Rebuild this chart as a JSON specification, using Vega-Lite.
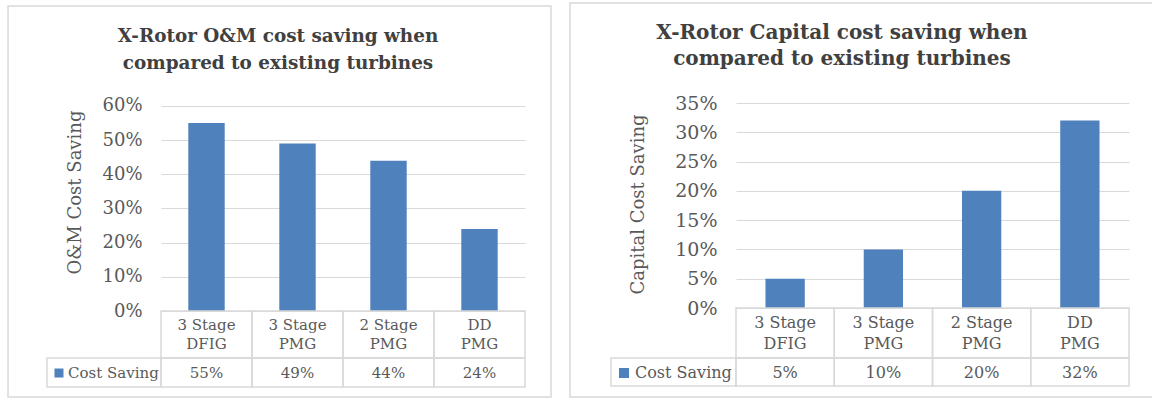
{
  "$schema": "https://vega.github.io/schema/vega-lite/v6.json",
  "padding": {"left": 7, "top": 2, "right": 0, "bottom": 0},
  "background": "white",
  "bounds": "flush",
  "spacing": 211,
  "config": {"view": {"stroke": null}},
  "datasets": {
    "om": [
      {"turbine": "3 Stage\nDFIG", "saving": 0.55},
      {"turbine": "3 Stage\nPMG", "saving": 0.49},
      {"turbine": "2 Stage\nPMG", "saving": 0.44},
      {"turbine": "DD\nPMG", "saving": 0.24}
    ],
    "capital": [
      {"turbine": "3 Stage\nDFIG", "saving": 0.05},
      {"turbine": "3 Stage\nPMG", "saving": 0.10},
      {"turbine": "2 Stage\nPMG", "saving": 0.20},
      {"turbine": "DD\nPMG", "saving": 0.32}
    ],
    "one": [{"series": "Cost Saving"}]
  },
  "hconcat": [
    {
      "width": 364,
      "height": 208,
      "title": {"text": ["X-Rotor O&M cost saving when", "compared to existing turbines"], "font": "DejaVu Serif", "fontSize": 18.4, "fontWeight": "bold", "color": "#404040", "anchor": "middle", "frame": "group", "dx": -65, "offset": -67, "lineHeight": 27},
      "resolve": {"scale": {"x": "independent"}, "axis": {"y": "independent"}},
      "layer": [
        {
          "data": {"name": "one"},
          "resolve": {"axis": {"y": "independent"}},
          "layer": [
            {
              "mark": {"type": "rect", "fill": null, "stroke": "#d9d9d9", "strokeWidth": 1.5},
              "encoding": {
                "x": {"datum": -1.681, "type": "quantitative", "scale": {"domain": [0, 4], "nice": false, "zero": false}, "axis": null},
                "x2": {"datum": 4.286},
                "y": {"datum": 0.8926, "type": "quantitative", "axis": null},
                "y2": {"datum": -0.2517}
              }
            },
            {
              "mark": {"type": "rect", "fill": null, "stroke": "#d9d9d9", "strokeWidth": 1.5},
              "encoding": {
                "x": {"datum": -1.253, "type": "quantitative", "axis": null},
                "x2": {"datum": 0},
                "y": {"datum": -0.1375, "type": "quantitative", "axis": null},
                "y2": {"datum": -0.2224}
              }
            },
            {
              "mark": {"type": "point", "shape": "square", "filled": true, "color": "#4f81bd", "opacity": 1, "size": 81},
              "encoding": {
                "x": {"datum": -1.121, "type": "quantitative", "axis": null},
                "y": {"datum": -0.1815, "type": "quantitative", "axis": null}
              }
            },
            {
              "mark": {"type": "text", "font": "DejaVu Serif", "fontSize": 15, "color": "#595959", "baseline": "middle", "align": "left"},
              "encoding": {
                "x": {"datum": -1.022, "type": "quantitative", "axis": null},
                "y": {"datum": -0.1815, "type": "quantitative", "axis": null},
                "text": {"field": "series"}
              }
            }
          ]
        },
        {
          "data": {"name": "om"},
          "resolve": {"axis": {"y": "independent"}},
          "layer": [
            {
              "mark": {"type": "bar", "color": "#4f81bd", "width": {"band": 0.4}},
              "encoding": {
                "x": {"field": "turbine", "type": "nominal", "scale": {"domain": ["3 Stage\nDFIG", "3 Stage\nPMG", "2 Stage\nPMG", "DD\nPMG"], "paddingInner": 0, "paddingOuter": 0}, "axis": null},
                "y": {"field": "saving", "type": "quantitative", "scale": {"domain": [0, 0.6087], "nice": false, "zero": false},
                  "axis": {"values": [0, 0.1, 0.2, 0.3, 0.4, 0.5, 0.6], "format": ".0%", "grid": true, "gridColor": "#d9d9d9", "gridWidth": 1, "domain": false, "ticks": false, "tickSize": 0, "labelOverlap": false, "labelBound": false, "labelPadding": 19, "labelFont": "DejaVu Serif", "labelFontSize": 18, "labelColor": "#595959",
                    "title": "O&M Cost Saving", "titleFont": "DejaVu Serif", "titleFontSize": 18, "titleFontWeight": "normal", "titleColor": "#595959", "titleX": -86, "titleY": 89, "titleBaseline": "middle", "titleAlign": "center", "titleAngle": -90}}
              }
            },
            {
              "mark": {"type": "rect", "fill": null, "stroke": "#d9d9d9", "strokeWidth": 1.5},
              "encoding": {
                "x": {"field": "turbine", "type": "nominal"},
                "y": {"datum": 0, "type": "quantitative", "axis": null},
                "y2": {"datum": -0.1375}
              }
            },
            {
              "mark": {"type": "rect", "fill": null, "stroke": "#d9d9d9", "strokeWidth": 1.5},
              "encoding": {
                "x": {"field": "turbine", "type": "nominal"},
                "y": {"datum": -0.1375, "type": "quantitative", "axis": null},
                "y2": {"datum": -0.2224}
              }
            },
            {
              "mark": {"type": "text", "font": "DejaVu Serif", "fontSize": 15, "color": "#595959", "lineBreak": "\n", "lineHeight": 19, "baseline": "middle", "align": "center"},
              "encoding": {
                "x": {"field": "turbine", "type": "nominal"},
                "y": {"datum": -0.041, "type": "quantitative", "axis": null},
                "text": {"field": "turbine"}
              }
            },
            {
              "mark": {"type": "text", "font": "DejaVu Serif", "fontSize": 15, "color": "#595959", "baseline": "middle", "align": "center"},
              "encoding": {
                "x": {"field": "turbine", "type": "nominal"},
                "y": {"datum": -0.1815, "type": "quantitative", "axis": null},
                "text": {"field": "saving", "format": ".0%"}
              }
            }
          ]
        }
      ]
    },
    {
      "width": 393,
      "height": 205,
      "title": {"text": ["X-Rotor Capital cost saving when", "compared to existing turbines"], "font": "DejaVu Serif", "fontSize": 20, "fontWeight": "bold", "color": "#404040", "anchor": "middle", "frame": "group", "dx": -90.5, "offset": -67, "lineHeight": 26},
      "resolve": {"scale": {"x": "independent"}, "axis": {"y": "independent"}},
      "layer": [
        {
          "data": {"name": "one"},
          "resolve": {"axis": {"y": "independent"}},
          "layer": [
            {
              "mark": {"type": "rect", "fill": null, "stroke": "#d9d9d9", "strokeWidth": 1.5},
              "encoding": {
                "x": {"datum": -1.69, "type": "quantitative", "scale": {"domain": [0, 4], "nice": false, "zero": false}, "axis": null},
                "x2": {"datum": 4.366},
                "y": {"datum": 0.5207, "type": "quantitative", "axis": null},
                "y2": {"datum": -0.152}
              }
            },
            {
              "mark": {"type": "rect", "fill": null, "stroke": "#d9d9d9", "strokeWidth": 1.5},
              "encoding": {
                "x": {"datum": -1.272, "type": "quantitative", "axis": null},
                "x2": {"datum": 0},
                "y": {"datum": -0.0854, "type": "quantitative", "axis": null},
                "y2": {"datum": -0.1332}
              }
            },
            {
              "mark": {"type": "point", "shape": "square", "filled": true, "color": "#4f81bd", "opacity": 1, "size": 100},
              "encoding": {
                "x": {"datum": -1.14, "type": "quantitative", "axis": null},
                "y": {"datum": -0.111, "type": "quantitative", "axis": null}
              }
            },
            {
              "mark": {"type": "text", "font": "DejaVu Serif", "fontSize": 16, "color": "#595959", "baseline": "middle", "align": "left"},
              "encoding": {
                "x": {"datum": -1.028, "type": "quantitative", "axis": null},
                "y": {"datum": -0.111, "type": "quantitative", "axis": null},
                "text": {"field": "series"}
              }
            }
          ]
        },
        {
          "data": {"name": "capital"},
          "resolve": {"axis": {"y": "independent"}},
          "layer": [
            {
              "mark": {"type": "bar", "color": "#4f81bd", "width": {"band": 0.4}},
              "encoding": {
                "x": {"field": "turbine", "type": "nominal", "scale": {"domain": ["3 Stage\nDFIG", "3 Stage\nPMG", "2 Stage\nPMG", "DD\nPMG"], "paddingInner": 0, "paddingOuter": 0}, "axis": null},
                "y": {"field": "saving", "type": "quantitative", "scale": {"domain": [0, 0.35], "nice": false, "zero": false},
                  "axis": {"values": [0, 0.05, 0.1, 0.15, 0.2, 0.25, 0.3, 0.35], "format": ".0%", "grid": true, "gridColor": "#d9d9d9", "gridWidth": 1, "domain": false, "ticks": false, "tickSize": 0, "labelOverlap": false, "labelBound": false, "labelPadding": 19, "labelFont": "DejaVu Serif", "labelFontSize": 19, "labelColor": "#595959",
                    "title": "Capital Cost Saving", "titleFont": "DejaVu Serif", "titleFontSize": 18, "titleFontWeight": "normal", "titleColor": "#595959", "titleX": -98, "titleY": 101, "titleBaseline": "middle", "titleAlign": "center", "titleAngle": -90}}
              }
            },
            {
              "mark": {"type": "rect", "fill": null, "stroke": "#d9d9d9", "strokeWidth": 1.5},
              "encoding": {
                "x": {"field": "turbine", "type": "nominal"},
                "y": {"datum": 0, "type": "quantitative", "axis": null},
                "y2": {"datum": -0.0854}
              }
            },
            {
              "mark": {"type": "rect", "fill": null, "stroke": "#d9d9d9", "strokeWidth": 1.5},
              "encoding": {
                "x": {"field": "turbine", "type": "nominal"},
                "y": {"datum": -0.0854, "type": "quantitative", "axis": null},
                "y2": {"datum": -0.1332}
              }
            },
            {
              "mark": {"type": "text", "font": "DejaVu Serif", "fontSize": 16, "color": "#595959", "lineBreak": "\n", "lineHeight": 21, "baseline": "middle", "align": "center"},
              "encoding": {
                "x": {"field": "turbine", "type": "nominal"},
                "y": {"datum": -0.0256, "type": "quantitative", "axis": null},
                "text": {"field": "turbine"}
              }
            },
            {
              "mark": {"type": "text", "font": "DejaVu Serif", "fontSize": 16, "color": "#595959", "baseline": "middle", "align": "center"},
              "encoding": {
                "x": {"field": "turbine", "type": "nominal"},
                "y": {"datum": -0.111, "type": "quantitative", "axis": null},
                "text": {"field": "saving", "format": ".0%"}
              }
            }
          ]
        }
      ]
    }
  ]
}
